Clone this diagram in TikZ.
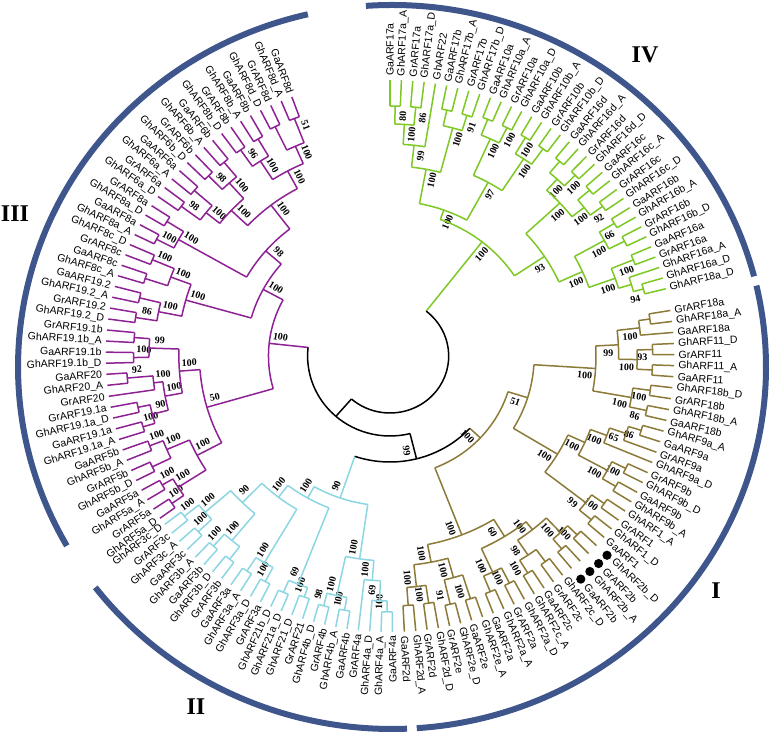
\documentclass[tikz,border=0pt]{standalone}
\usepackage{fontspec}
\setmainfont{Liberation Serif}
\newfontfamily\leaffont{Liberation Sans}
\definecolor{grn}{RGB}{126,200,36}
\definecolor{olv}{RGB}{140,122,56}
\definecolor{cyn}{RGB}{140,214,226}
\definecolor{pur}{RGB}{142,34,148}
\definecolor{arcblue}{RGB}{62,86,140}
\tikzset{
  br/.style={line width=1.5pt},
  leaf/.style={font=\leaffont\fontsize{10.5}{12}\selectfont, inner sep=0pt},
  bs/.style={font=\bfseries\fontsize{10}{11}\selectfont, inner sep=0pt},
  grp/.style={line width=6pt, draw=arcblue},
  grplab/.style={font=\bfseries\fontsize{24}{26}\selectfont, inner sep=0pt}
}
\newcommand\rtip{276}
\newcommand\rlab{280}
\newcommand\stp{2.3}
% leaf: id, text (optional label radius)
\newcommand\lf[3][\rlab]{%
  \expandafter\xdef\csname ang-#2\endcsname{\cang}%
  \expandafter\xdef\csname rad-#2\endcsname{\rtip}%
  \expandafter\xdef\csname col-#2\endcsname{\curcol}%
  \ifdim\cang pt>-88.5pt
    \node[leaf, anchor=west, rotate=\cang] (#2) at (\cang:#1) {#3};
  \else
    \pgfmathsetmacro\rot{\cang+180}%
    \node[leaf, anchor=east, rotate=\rot] (#2) at (\cang:#1) {#3};
  \fi
  \pgfmathsetmacro\tmp{\cang-\stp}\xdef\cang{\tmp}%
}
% bootstrap value next to an inner node
\newcommand\bsl[4]{%
  \if\relax\detokenize{#4}\relax\else
    \pgfmathsetmacro\bA{#2-460/#3}%
    \pgfmathsetmacro\bR{#3-10}%
    \ifdim\bA pt>-90pt \edef\bRot{\bA}\else\pgfmathsetmacro\bRot{\bA+180}\fi
    \node[bs, rotate=\bRot] (bs-#1) at (\bA:\bR) {#4};
  \fi}
% inner node: id, radius, child, child, bootstrap
\newcommand\tn[5]{%
  \edef\tA{\csname ang-#3\endcsname}\edef\tB{\csname ang-#4\endcsname}%
  \edef\rA{\csname rad-#3\endcsname}\edef\rB{\csname rad-#4\endcsname}%
  \edef\cA{\csname col-#3\endcsname}\edef\cB{\csname col-#4\endcsname}%
  \draw[br, color=\cA] (\tA:#2) -- (\tA:\rA);
  \draw[br, color=\cB] (\tB:#2) -- (\tB:\rB);
  \draw[br, color=\curcol] (\tA:#2) arc[start angle=\tA, end angle=\tB, radius=#2];
  \pgfmathsetmacro\tM{(\tA+\tB)/2}%
  \expandafter\xdef\csname ang-#1\endcsname{\tM}%
  \expandafter\xdef\csname rad-#1\endcsname{#2}%
  \expandafter\xdef\csname col-#1\endcsname{\curcol}%
  \bsl{#1}{\tM}{#2}{#5}%
}
\newcommand\dotat[1]{\fill (\csname ang-#1\endcsname:290) circle[radius=4.6pt];}

\begin{document}
\begin{tikzpicture}[x=1.03pt, y=1pt]
\useasboundingbox (-390pt,-378pt) rectangle (387pt,356pt);

% group IV
\def\curcol{grn}\xdef\cang{90}
\lf{l1}{GaARF17a}
\lf{l2}{GhARF17a\_A}
\lf{l3}{GrARF17a}
\lf{l4}{GhARF17a\_D}
\lf{l5}{GhARF22}
\lf{l6}{GaARF17b}
\lf{l7}{GhARF17b\_A}
\lf{l8}{GrARF17b}
\lf{l9}{GhARF17b\_D}
\lf{l10}{GaARF10a}
\lf{l11}{GhARF10a\_A}
\lf{l12}{GrARF10a}
\lf{l13}{GhARF10a\_D}
\lf{l14}{GaARF10b}
\lf{l15}{GhARF10b\_A}
\lf{l16}{GrARF10b}
\lf{l17}{GhARF10b\_D}
\lf{l18}{GaARF16d}
\lf{l19}{GhARF16d\_A}
\lf{l20}{GrARF16d}
\lf{l21}{GhARF16d\_D}
\lf{l22}{GaARF16c}
\lf{l23}{GhARF16c\_A}
\lf{l24}{GrARF16c}
\lf{l25}{GhARF16c\_D}
\lf{l26}{GaARF16b}
\lf{l27}{GhARF16b\_A}
\lf{l28}{GrARF16b}
\lf{l29}{GhARF16b\_D}
\lf{l30}{GaARF16a}
\lf{l31}{GrARF16a}
\lf{l32}{GhARF16a\_A}
\lf{l33}{GhARF16a\_D}
\lf{l34}{GhARF18a\_D}

% group I
\def\curcol{olv}\xdef\cang{9.5}
\lf{l35}{GrARF18a}
\lf{l36}{GhARF18a\_A}
\lf{l37}{GaARF18a}
\lf{l38}{GhARF11\_D}
\lf{l39}{GrARF11}
\lf{l40}{GhARF11\_A}
\lf{l41}{GaARF11}
\lf{l42}{GhARF18b\_D}
\lf{l43}{GrARF18b}
\lf{l44}{GhARF18b\_A}
\lf{l45}{GaARF18b}
\lf{l46}{GhARF9a\_A}
\lf{l47}{GaARF9a}
\lf{l48}{GrARF9a}
\lf{l49}{GhARF9a\_D}
\lf{l50}{GrARF9b}
\lf{l51}{GhARF9b\_D}
\lf{l52}{GaARF9b}
\lf{l53}{GhARF9b\_A}
\lf{l54}{GhARF1\_A}
\lf{l55}{GrARF1}
\lf{l56}{GhARF1\_D}
\lf{l57}{GaARF1}
\lf[298]{l58}{GhARF2b\_D}
\lf[298]{l59}{GrARF2b}
\lf[298]{l60}{GhARF2b\_A}
\lf[298]{l61}{GaARF2b}
\lf{l62}{GhARF2c\_D}
\lf{l63}{GrARF2c}
\lf{l64}{GaARF2c}
\lf{l65}{GhARF2c\_A}
\lf{l66}{GhARF2a\_D}
\lf{l67}{GrARF2a}
\lf{l68}{GhARF2a\_A}
\lf{l69}{GaARF2a}
\lf{l70}{GhARF2e\_A}
\lf{l71}{GaARF2e}
\lf{l72}{GhARF2e\_D}
\lf{l73}{GrARF2e}
\lf{l74}{GhARF2d\_D}
\lf{l75}{GrARF2d}
\lf{l76}{GhARF2d\_A}
\lf{l77}{GaARF2d}

% group II
\def\curcol{cyn}\xdef\cang{-89.5}
\lf{l78}{GaARF4a}
\lf{l79}{GhARF4a\_A}
\lf{l80}{GhARF4a\_D}
\lf{l81}{GrARF4a}
\lf{l82}{GaARF4b}
\lf{l83}{GhARF4b\_A}
\lf{l84}{GrARF4b}
\lf{l85}{GhARF4b\_D}
\lf{l86}{GrARF21}
\lf{l87}{GhARF21\_D}
\lf{l88}{GhARF21a\_D}
\lf{l89}{GhARF21b\_D}
\lf{l90}{GrARF3a}
\lf{l91}{GhARF3a\_D}
\lf{l92}{GhARF3a\_A}
\lf{l93}{GaARF3a}
\lf{l94}{GrARF3b}
\lf{l95}{GhARF3b\_D}
\lf{l96}{GaARF3b}
\lf{l97}{GhARF3b\_A}
\lf{l98}{GaARF3c}
\lf{l99}{GhARF3c\_A}
\lf{l100}{GrARF3c}
\lf{l101}{GhARF3c\_D}

% group III
\def\curcol{pur}\xdef\cang{-144}
\lf{l102}{GhARF5a\_D}
\lf{l103}{GrARF5a}
\lf{l104}{GhARF5a\_A}
\lf{l105}{GaARF5a}
\lf{l106}{GhARF5b\_D}
\lf{l107}{GrARF5b}
\lf{l108}{GhARF5b\_A}
\lf{l109}{GaARF5b}
\lf{l110}{GhARF19.1a\_A}
\lf{l111}{GaARF19.1a}
\lf{l112}{GhARF19.1a\_D}
\lf{l113}{GrARF19.1a}
\lf{l114}{GrARF20}
\lf{l115}{GhARF20\_A}
\lf{l116}{GaARF20}
\lf{l117}{GhARF19.1b\_D}
\lf{l118}{GaARF19.1b}
\lf{l119}{GhARF19.1b\_A}
\lf{l120}{GrARF19.1b}
\lf{l121}{GhARF19.2\_D}
\lf{l122}{GrARF19.2}
\lf{l123}{GhARF19.2\_A}
\lf{l124}{GaARF19.2}
\lf{l125}{GhARF8c\_A}
\lf{l126}{GaARF8c}
\lf{l127}{GrARF8c}
\lf{l128}{GhARF8c\_D}
\lf{l129}{GhARF8a\_A}
\lf{l130}{GaARF8a}
\lf{l131}{GhARF8a\_D}
\lf{l132}{GrARF8a}
\lf{l133}{GhARF6a\_D}
\lf{l134}{GrARF6a}
\lf{l135}{GhARF6a\_A}
\lf{l136}{GaARF6a}
\lf{l137}{GhARF6b\_D}
\lf{l138}{GrARF6b}
\lf{l139}{GhARF6b\_A}
\lf{l140}{GaARF6b}
\lf{l141}{GhARF8b\_D}
\lf{l142}{GrARF8b}
\lf{l143}{GhARF8b\_A}
\lf{l144}{GaARF8b}
\lf{l145}{GhARF8d\_D}
\lf{l146}{GrARF8d}
\lf{l147}{GhARF8d\_A}
\lf{l148}{GaARF8d}

% clades of group IV
\def\curcol{grn}
\tn{G1}{250}{l1}{l2}{80}
\tn{G2}{250}{l3}{l4}{86}
\tn{G3}{232}{G1}{G2}{100}
\tn{G4}{212}{G3}{l5}{99}
\tn{G5}{252}{l6}{l7}{}
\tn{G6}{252}{l8}{l9}{91}
\tn{G7}{236}{G5}{G6}{100}
\tn{G8}{190}{G4}{G7}{100}
\tn{G9}{255}{l10}{l11}{}
\tn{G10}{255}{l12}{l13}{100}
\tn{G11}{238}{G9}{G10}{100}
\tn{G12}{255}{l14}{l15}{100}
\tn{G13}{255}{l16}{l17}{}
\tn{G14}{236}{G12}{G13}{100}
\tn{G15}{198}{G11}{G14}{97}
\tn{G16}{155}{G8}{G15}{100}
\tn{G17}{255}{l18}{l19}{}
\tn{G18}{255}{l20}{l21}{100}
\tn{G19}{240}{G17}{G18}{100}
\tn{G20}{255}{l22}{l23}{}
\tn{G21}{255}{l24}{l25}{92}
\tn{G22}{240}{G20}{G21}{100}
\tn{G23}{225}{G19}{G22}{100}
\tn{G24}{255}{l26}{l27}{66}
\tn{G25}{255}{l28}{l29}{}
\tn{G26}{238}{G24}{G25}{100}
\tn{G27}{255}{l30}{l31}{100}
\tn{G28}{255}{l33}{l34}{94}
\tn{G29}{245}{l32}{G28}{}
\tn{G30}{232}{G27}{G29}{100}
\tn{G31}{205}{G26}{G30}{100}
\tn{G32}{180}{G23}{G31}{93}
\tn{G33}{145}{G16}{G32}{100}

% clades of group I
\def\curcol{olv}
\tn{O1}{255}{l35}{l36}{}
\tn{O2}{244}{O1}{l37}{100}
\tn{O3}{255}{l38}{l39}{93}
\tn{O4}{255}{l40}{l41}{}
\tn{O5}{240}{O3}{O4}{100}
\tn{O6}{222}{O2}{O5}{99}
\tn{O7}{255}{l42}{l43}{100}
\tn{O8}{255}{l44}{l45}{86}
\tn{O9}{238}{O7}{O8}{100}
\tn{O10}{200}{O6}{O9}{100}
\tn{O11}{255}{l46}{l47}{86}
\tn{O12}{242}{O11}{l48}{65}
\tn{O13}{225}{O12}{l49}{100}
\tn{O14}{255}{l50}{l51}{100}
\tn{O15}{255}{l52}{l53}{}
\tn{O16}{240}{O14}{O15}{100}
\tn{O17}{208}{O13}{O16}{100}
\tn{O18}{255}{l54}{l55}{100}
\tn{O19}{255}{l56}{l57}{}
\tn{O20}{240}{O18}{O19}{99}
\tn{O21}{190}{O17}{O20}{100}
\tn{O22}{140}{O10}{O21}{51}
\tn{O23}{255}{l58}{l59}{100}
\tn{O24}{255}{l60}{l61}{}
\tn{O25}{242}{O23}{O24}{100}
\tn{O26}{255}{l62}{l63}{}
\tn{O27}{255}{l64}{l65}{100}
\tn{O28}{240}{O26}{O27}{98}
\tn{O29}{222}{O25}{O28}{100}
\tn{O30}{255}{l66}{l67}{100}
\tn{O31}{255}{l68}{l69}{}
\tn{O32}{238}{O30}{O31}{100}
\tn{O33}{212}{O29}{O32}{60}
\tn{O34}{255}{l70}{l71}{100}
\tn{O35}{255}{l72}{l73}{91}
\tn{O36}{230}{O34}{O35}{100}
\tn{O37}{250}{l74}{l75}{100}
\tn{O38}{250}{l76}{l77}{}
\tn{O39}{232}{O37}{O38}{100}
\tn{O40}{210}{O36}{O39}{100}
\tn{O41}{192}{O33}{O40}{100}
\tn{O42}{120}{O22}{O41}{100}

% clades of group II
\def\curcol{cyn}
\tn{C1}{256}{l78}{l79}{100}
\tn{C2}{245}{C1}{l80}{69}
\tn{C3}{225}{C2}{l81}{100}
\tn{C4}{258}{l82}{l83}{100}
\tn{C5}{258}{l84}{l85}{98}
\tn{C6}{245}{C4}{C5}{100}
\tn{C7}{205}{C3}{C6}{100}
\tn{C8}{255}{l86}{l87}{100}
\tn{C9}{258}{l88}{l89}{}
\tn{C10}{245}{C8}{C9}{69}
\tn{C11}{256}{l90}{l91}{100}
\tn{C12}{256}{l92}{l93}{}
\tn{C13}{240}{C11}{C12}{100}
\tn{C14}{256}{l94}{l95}{}
\tn{C15}{256}{l96}{l97}{100}
\tn{C16}{240}{C14}{C15}{100}
\tn{C17}{256}{l98}{l99}{100}
\tn{C18}{256}{l100}{l101}{100}
\tn{C19}{238}{C17}{C18}{100}
\tn{C20}{205}{C16}{C19}{90}
\tn{C21}{178}{C13}{C20}{100}
\tn{C22}{163}{C10}{C21}{100}
\tn{C23}{150}{C7}{C22}{90}

% clades of group III
\def\curcol{pur}
\tn{P1}{258}{l102}{l103}{100}
\tn{P2}{256}{l104}{l105}{100}
\tn{P3}{244}{P1}{P2}{100}
\tn{P4}{256}{l106}{l107}{}
\tn{P5}{250}{l108}{l109}{100}
\tn{P6}{236}{P4}{P5}{100}
\tn{P7}{212}{P3}{P6}{100}
\tn{P8}{250}{l110}{l111}{100}
\tn{P9}{250}{l112}{l113}{}
\tn{P10}{238}{P8}{P9}{90}
\tn{P11}{256}{l115}{l116}{92}
\tn{P12}{231}{l114}{P11}{100}
\tn{P13}{222}{P10}{P12}{100}
\tn{P14}{249}{l117}{l118}{100}
\tn{P15}{249}{l119}{l120}{}
\tn{P16}{234}{P14}{P15}{99}
\tn{P17}{205}{P13}{P16}{100}
\tn{P18}{185}{P7}{P17}{50}
\tn{P19}{250}{l121}{l122}{86}
\tn{P20}{250}{l123}{l124}{}
\tn{P21}{229}{P19}{P20}{100}
\tn{P22}{250}{l125}{l126}{}
\tn{P23}{250}{l127}{l128}{100}
\tn{P24}{227}{P22}{P23}{100}
\tn{P25}{206}{P21}{P24}{100}
\tn{P26}{255}{l129}{l130}{100}
\tn{P27}{255}{l131}{l132}{}
\tn{P28}{236}{P26}{P27}{100}
\tn{P29}{252}{l133}{l134}{98}
\tn{P30}{252}{l135}{l136}{}
\tn{P31}{229}{P29}{P30}{100}
\tn{P32}{252}{l137}{l138}{98}
\tn{P33}{252}{l139}{l140}{}
\tn{P34}{233}{P32}{P33}{100}
\tn{P35}{212}{P31}{P34}{100}
\tn{P36}{252}{l141}{l142}{96}
\tn{P37}{252}{l143}{l144}{}
\tn{P38}{232}{P36}{P37}{100}
\tn{P39}{255}{l145}{l146}{}
\tn{P40}{255}{l147}{l148}{51}
\tn{P41}{229}{P39}{P40}{100}
\tn{P42}{210}{P38}{P41}{100}
\tn{P43}{190}{P35}{P42}{100}
\tn{P44}{160}{P28}{P43}{98}
\tn{P45}{140}{P25}{P44}{100}
\tn{P46}{118}{P18}{P45}{100}

% backbone
\def\curcol{black}
\tn{T1}{106}{O42}{C23}{99}
\tn{T2}{80}{T1}{P46}{}
\tn{T3}{57}{G33}{T2}{}

% marked genes
\dotat{l58}\dotat{l59}\dotat{l60}\dotat{l61}

% group arcs
\begin{scope}[shift={(2pt,-11pt)}]
\draw[grp] (94:374pt and 362pt) arc[start angle=94, end angle=14.5, x radius=374pt, y radius=362pt];
\draw[grp] (13:374pt and 362pt) arc[start angle=13, end angle=-86.2, x radius=374pt, y radius=362pt];
\draw[grp] (-87.7:374pt and 362pt) arc[start angle=-87.7, end angle=-142.5, x radius=374pt, y radius=362pt];
\draw[grp] (-150.4:374pt and 362pt) arc[start angle=-150.4, end angle=-257, x radius=374pt, y radius=362pt];
\end{scope}
\node[grplab] (labIV) at (255pt,301pt) {IV};
\node[grplab] (labI) at (326pt,-235pt) {I};
\node[grplab] (labII) at (-194pt,-351pt) {II};
\node[grplab] (labIII) at (-375pt,142pt) {III};
\end{tikzpicture}
\end{document}
